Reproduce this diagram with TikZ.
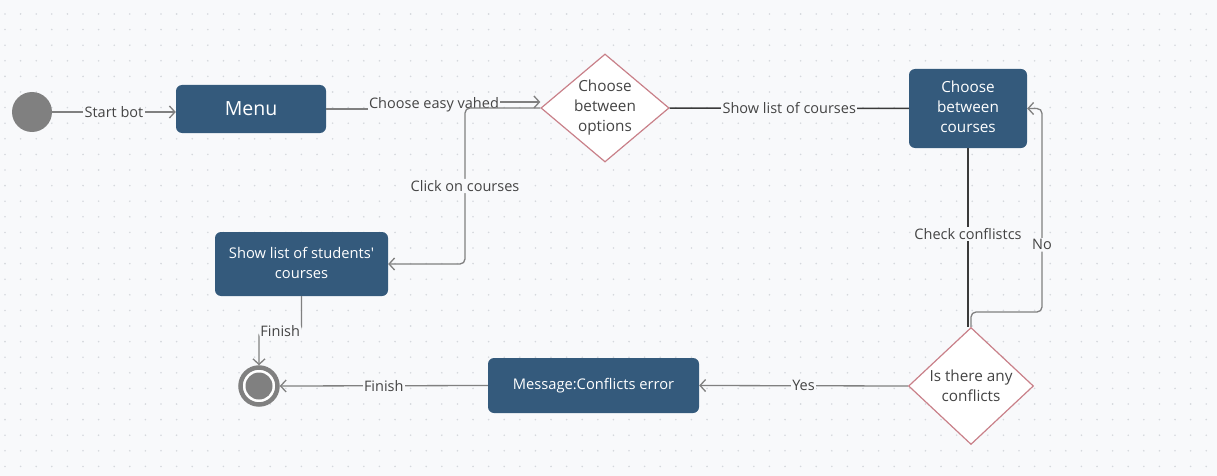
\documentclass[tikz,border=0pt]{standalone}
\usepackage{fontspec}
\setmainfont{Open Sans}
\usetikzlibrary{shapes.geometric,arrows.meta}
\definecolor{bg}{HTML}{F8F9FB}
\definecolor{boxblue}{HTML}{345A7C}
\definecolor{dgray}{HTML}{808080}
\definecolor{ink}{HTML}{444444}
\definecolor{rose}{HTML}{C98089}
\definecolor{dotc}{HTML}{D5D8DD}
\definecolor{darkline}{HTML}{3A3A3A}
\begin{document}
\begin{tikzpicture}[x=1pt,y=-1pt,
  box/.style={draw=none,fill=boxblue,rounded corners=6pt,text=white,align=center,font=\fontsize{14.7}{20}\selectfont,inner sep=0pt},
  decision/.style={diamond,draw=rose,line width=1.2pt,fill=white,text=ink,align=center,inner sep=0pt,font=\fontsize{15.3}{20}\selectfont},
  conn/.style={draw=dgray,line width=1.3pt},
  darkconn/.style={draw=darkline,line width=1.5pt},
  tip/.style={-{Straight Barb[length=5.5pt,width=12pt,line width=1.3pt]}},
  lbl/.style={fill=bg,text=ink,inner sep=1.5pt,font=\fontsize{14.5}{17}\selectfont},
]
\fill[bg] (0,0) rectangle (1217,476);
\useasboundingbox (0,0) rectangle (1217,476);
\foreach \i in {0,...,77} {
  \foreach \j in {0,...,30} {
    \fill[dotc] (5+\i*15.6, 14+\j*15.6) circle (0.9pt);
  }
}

% nodes
\node[circle,fill=dgray,minimum size=40pt,inner sep=0pt] (start) at (32,112) {};
\node[box,minimum width=150pt,minimum height=48pt,font=\fontsize{19.5}{22}\selectfont] (menu) at (251,109) {Menu};
\node[decision,aspect=1.2,minimum width=124pt,minimum height=108pt] (opt) at (605,108) {Choose\\between\\options};
\node[box,minimum width=118pt,minimum height=79pt,font=\fontsize{15.3}{20}\selectfont] (courses) at (968,108.5) {\strut Choose\\between\\courses\strut};
\node[decision,minimum width=125pt,minimum height=117pt] (conf) at (971,386) {Is there any\\conflicts};
\node[box,minimum width=211pt,minimum height=55pt] (msg) at (593.5,385.5) {Message:Conflicts error};
\node[box,minimum width=173pt,minimum height=64pt] (show) at (301.5,264) {\strut Show list of students\textquotesingle\\courses\strut};
\node[circle,draw=dgray,line width=4.5pt,fill=white,minimum size=37pt,inner sep=0pt] (end) at (259,386) {};
\fill[dgray] (end.center) circle (13.5pt);

% connectors
\draw[conn,tip] (start.east) -- node[lbl]{Start bot} (start.east -| menu.west);
\draw[conn,tip] (menu.east) -- (434,109) -- (434,102) -- ([yshift=6pt]opt.west);
\node[lbl] (lchoose) at (434,105) {Choose easy vahed};
\draw[conn,tip,rounded corners=5pt] (opt.west) -- (465,108) -- node[lbl,pos=0.5]{Click on courses} (465,264) -- (show.east);
\draw[darkconn] (opt.east) -- node[lbl]{Show list of courses} (courses.west);
\draw[darkconn] (courses.south) -- node[lbl,pos=0.48]{Check conflistcs} (courses.south |- conf.north);
\draw[conn,tip,rounded corners=5pt] (conf.north) -- (971,312) -- (1042,312) -- node[lbl,pos=0.33]{No} (1042,108.5) -- (courses.east);
\draw[conn,tip] (conf.west) -- node[lbl]{Yes} (msg.east);
\draw[conn,tip] (msg.west) -- node[lbl]{Finish} (end.east);
\draw[conn,tip,rounded corners=4pt] (show.south) -- (301.5,331) -- node[lbl]{Finish} (259,331) -- (end.north);
\end{tikzpicture}
\end{document}
